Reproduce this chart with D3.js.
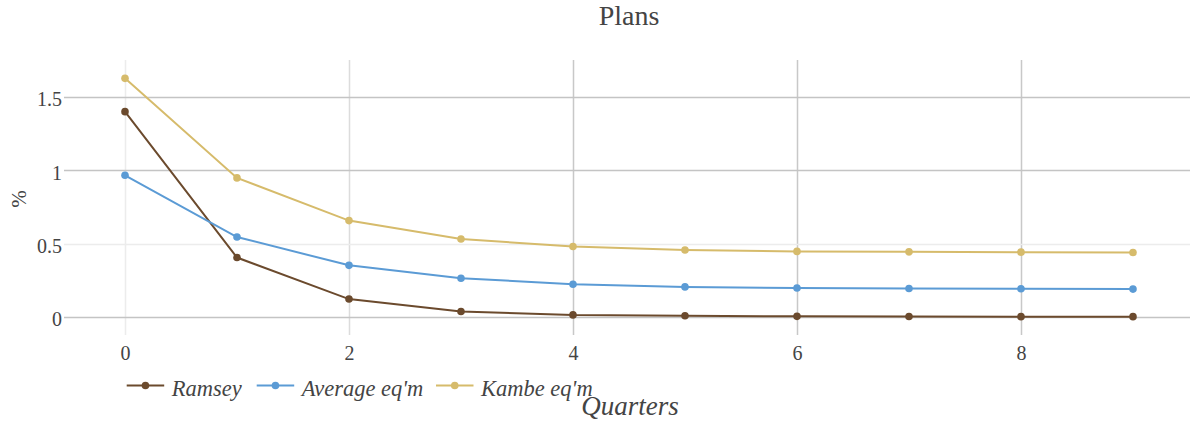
<!DOCTYPE html>
<html>
<head>
<meta charset="utf-8">
<script src="https://cdn.jsdelivr.net/npm/d3@7"></script>
<style>
  body { margin: 0; background: #fff; }
  svg { display: block; }
  text { font-family: "Liberation Serif", "DejaVu Serif", serif; fill: #444; }
</style>
</head>
<body>
<svg id="chart" width="1191" height="427"></svg>
<script>
const quarters = [0, 1, 2, 3, 4, 5, 6, 7, 8, 9];
const ramsey  = [1.40, 0.405, 0.122, 0.037, 0.014, 0.008, 0.004, 0.003, 0.002, 0.002];
const average = [0.966, 0.545, 0.352, 0.264, 0.223, 0.205, 0.197, 0.194, 0.192, 0.190];
const kambe   = [1.627, 0.948, 0.657, 0.532, 0.480, 0.457, 0.447, 0.444, 0.442, 0.439];
const seriesNames = ["Ramsey", "Average eq'm", "Kambe eq'm"];
const seriesColors = ["#6b4a2d", "#5b9bd5", "#d6bb6b"];
const xTicks = [0, 2, 4, 6, 8];
const yTicks = [0, 0.5, 1, 1.5];
const yTickLabels = ["0", "0.5", "1", "1.5"];

const svg = d3.select("#chart");
const plot = { left: 64, right: 1190, top: 60, bottom: 335 };

const x = d3.scaleLinear().domain([-0.5446, 9.509]).range([plot.left, plot.right]);
const y = d3.scaleLinear().domain([-0.123, 1.752]).range([plot.bottom, plot.top]);

// Grid lines
const xGridColor = v => v === 0 ? "#ececec" : (v === 2 ? "#dcdcdc" : "#c8c8c8");
const yGridColor = v => v === 0.5 ? "#ececec" : "#c4c4c4";

svg.append("g").selectAll("line").data(xTicks).join("line")
  .attr("x1", d => Math.round(x(d)) + 0.5).attr("x2", d => Math.round(x(d)) + 0.5)
  .attr("y1", plot.top).attr("y2", plot.bottom)
  .attr("stroke", xGridColor).attr("stroke-width", 1.5);

svg.append("g").selectAll("line").data(yTicks).join("line")
  .attr("x1", plot.left).attr("x2", plot.right)
  .attr("y1", d => Math.round(y(d)) + 0.5).attr("y2", d => Math.round(y(d)) + 0.5)
  .attr("stroke", yGridColor).attr("stroke-width", 1.5);

// Axes (labels via d3 axes)
const xAxis = d3.axisBottom(x).tickValues(xTicks).tickSize(0).tickPadding(0).tickFormat(d3.format("d"));
const gx = svg.append("g").call(xAxis);
gx.attr("font-family", null).attr("font-size", null);
gx.select(".domain").remove();
gx.selectAll("text").attr("font-size", 20).attr("fill", "#444")
  .attr("y", 359.5).attr("dy", 0);

const yAxis = d3.axisLeft(y).tickValues(yTicks).tickSize(0).tickPadding(0)
  .tickFormat((d, i) => yTickLabels[i]);
const gy = svg.append("g").attr("transform", `translate(${plot.left - 2}, 0)`).call(yAxis);
gy.attr("font-family", null).attr("font-size", null);
gy.select(".domain").remove();
gy.selectAll("text").attr("font-size", 20).attr("fill", "#444").attr("dy", "0.45em");

// Lines and markers
const allSeries = [ramsey, average, kambe];
const line = d3.line().x((d, i) => x(quarters[i])).y(d => y(d));

allSeries.forEach((vals, si) => {
  svg.append("path").datum(vals)
    .attr("d", line).attr("fill", "none")
    .attr("stroke", seriesColors[si]).attr("stroke-width", 2);
});
allSeries.forEach((vals, si) => {
  svg.append("g").selectAll("circle").data(vals).join("circle")
    .attr("cx", (d, i) => x(quarters[i])).attr("cy", d => y(d))
    .attr("r", 3.8).attr("fill", seriesColors[si]);
});

// Title
svg.append("text").attr("x", 629).attr("y", 25).attr("text-anchor", "middle")
  .attr("font-size", 28).text("Plans");

// Axis titles
svg.append("text").attr("x", 630).attr("y", 415).attr("text-anchor", "middle")
  .attr("font-size", 27).attr("font-style", "italic").text("Quarters");
svg.append("text").attr("transform", "translate(26, 199) rotate(-90)")
  .attr("text-anchor", "middle").attr("font-size", 21).text("%");

// Legend
const legendX = [126.7, 256.7, 436];
seriesNames.forEach((name, i) => {
  const g = svg.append("g").attr("transform", `translate(${legendX[i]}, 385.5)`);
  g.append("line").attr("x1", 0).attr("x2", 37.5).attr("y1", 0).attr("y2", 0)
    .attr("stroke", seriesColors[i]).attr("stroke-width", 2);
  g.append("circle").attr("cx", 18.75).attr("cy", 0).attr("r", 3.8).attr("fill", seriesColors[i]);
  g.append("text").attr("x", 45).attr("y", 10).attr("font-size", 22.5)
    .attr("font-style", "italic").text(name);
});
</script>
</body>
</html>
